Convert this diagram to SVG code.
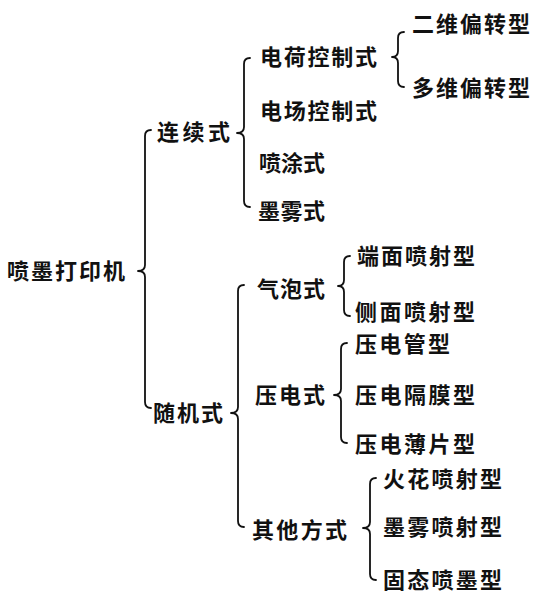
<svg xmlns="http://www.w3.org/2000/svg" width="540" height="597" viewBox="0 0 540 597">
<style>
.t text{font-family:"Noto Sans CJK SC","Noto Sans",sans-serif;font-size:22px;font-weight:700;fill:#111}
.brace{fill:none;stroke:#111;stroke-width:1.8;stroke-linecap:round;stroke-linejoin:round}
</style>
<rect width="540" height="597" fill="#fff"/>
<g id="connectors">
<path class="brace" d="M151,130 Q145,130 145,136 L145,265 Q145,271 138,271 Q145,271 145,277 L145,402 Q145,408 151,408"/>
<path class="brace" d="M250,58 Q244,58 244,64 L244,127 Q244,133 237,133 Q244,133 244,139 L244,201 Q244,207 250,207"/>
<path class="brace" d="M404,32 Q398,32 398,38 L398,51 Q398,57 392,57 Q398,57 398,63 L398,81 Q398,87 404,87"/>
<path class="brace" d="M244,285 Q238,285 238,291 L238,407 Q238,413 231,413 Q238,413 238,419 L238,521 Q238,527 244,527"/>
<path class="brace" d="M350,256 Q344,256 344,262 L344,280 Q344,286 338,286 Q344,286 344,292 L344,310 Q344,316 350,316"/>
<path class="brace" d="M347,343 Q341,343 341,349 L341,389 Q341,395 334,395 Q341,395 341,401 L341,437 Q341,443 347,443"/>
<path class="brace" d="M376,478 Q370,478 370,484 L370,522 Q370,528 363,528 Q370,528 370,534 L370,574 Q370,580 376,580"/>
</g>
<g class="t">
<g id="root"><text x="7" y="279" textLength="118" lengthAdjust="spacing">喷墨打印机</text></g>
<g id="lianxu"><text x="157" y="140" textLength="73" lengthAdjust="spacing">连续式</text></g>
<g id="suiji"><text x="153" y="421" textLength="70" lengthAdjust="spacing">随机式</text></g>
<g id="dianhe"><text x="260" y="65" textLength="117" lengthAdjust="spacing">电荷控制式</text></g>
<g id="dianchang"><text x="260" y="119" textLength="117" lengthAdjust="spacing">电场控制式</text></g>
<g id="pentu"><text x="259" y="171" textLength="66" lengthAdjust="spacing">喷涂式</text></g>
<g id="mowu"><text x="258" y="219" textLength="67" lengthAdjust="spacing">墨雾式</text></g>
<g id="erwei"><text x="412" y="32" textLength="118" lengthAdjust="spacing">二维偏转型</text></g>
<g id="duowei"><text x="412" y="96" textLength="118" lengthAdjust="spacing">多维偏转型</text></g>
<g id="qipao"><text x="257" y="297" textLength="68" lengthAdjust="spacing">气泡式</text></g>
<g id="yadian"><text x="255" y="403" textLength="70" lengthAdjust="spacing">压电式</text></g>
<g id="qita"><text x="252" y="538" textLength="95" lengthAdjust="spacing">其他方式</text></g>
<g id="duanmian"><text x="357" y="264" textLength="118" lengthAdjust="spacing">端面喷射型</text></g>
<g id="cemian"><text x="355" y="320" textLength="120" lengthAdjust="spacing">侧面喷射型</text></g>
<g id="yadianguan"><text x="355" y="352" textLength="95" lengthAdjust="spacing">压电管型</text></g>
<g id="yadiangemo"><text x="355" y="403" textLength="120" lengthAdjust="spacing">压电隔膜型</text></g>
<g id="yadianbaopian"><text x="355" y="452" textLength="120" lengthAdjust="spacing">压电薄片型</text></g>
<g id="huohua"><text x="383" y="487" textLength="119" lengthAdjust="spacing">火花喷射型</text></g>
<g id="mowupenshe"><text x="383" y="535" textLength="119" lengthAdjust="spacing">墨雾喷射型</text></g>
<g id="gutai"><text x="383" y="588" textLength="119" lengthAdjust="spacing">固态喷墨型</text></g>
</g>
</svg>
